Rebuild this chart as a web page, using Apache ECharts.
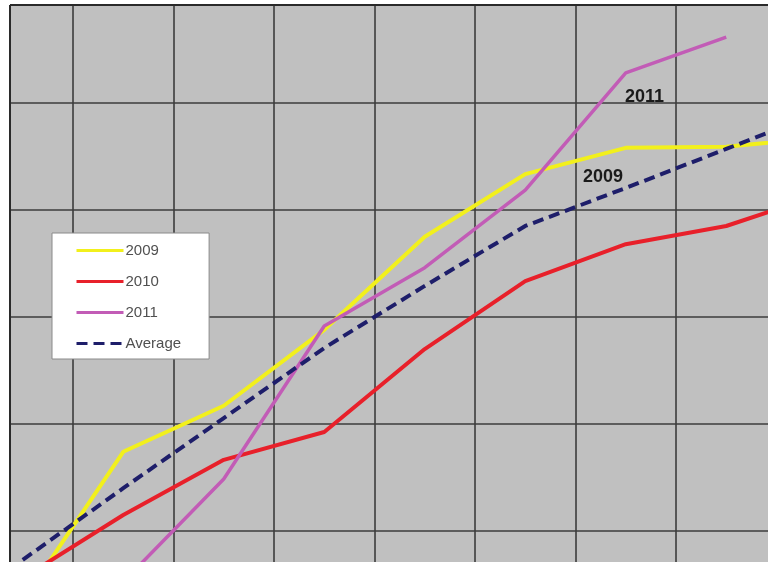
<!DOCTYPE html>
<html>
<head>
<meta charset="utf-8">
<script src="https://cdn.jsdelivr.net/npm/echarts@6/dist/echarts.min.js"></script>
<style>
html,body{margin:0;padding:0;background:#fff;}
#chart{width:768px;height:562px;}
</style>
</head>
<body>
<div id="chart"></div>
<script>
// Categories (periods; axis labels are not visible in the reference)
const categories = ['1', '2', '3', '4', '5', '6', '7', '8', '9'];
// Series values
const series2009 = [6.9, 34.8, 43.4, 57.6, 75.0, 86.7, 91.6, 91.8, 93.6];
const series2010 = [11.2, 23.0, 33.3, 38.5, 54.0, 66.7, 73.6, 77.0, 83.2];
const series2011 = [1.5, 10.5, 29.7, 58.3, 69.2, 83.7, 105.6, 112.3, null];
const seriesAverage = [14.6, 28.0, 41.1, 54.2, 65.8, 77.0, 84.1, 91.4, 98.7];
const seriesNames = ['2009', '2010', '2011', 'Average'];

const chart = echarts.init(document.getElementById('chart'), null, {renderer: 'canvas'});
const gridColor = '#3c3c3c';
const option = {
  animation: false,
  backgroundColor: '#ffffff',
  grid: {
    left: -27.5, right: -109, top: 5, bottom: -76,
    outerBoundsMode: 'none',
    containLabel: false,
    show: true, backgroundColor: '#c0c0c0', borderWidth: 0
  },
  xAxis: {
    type: 'category',
    data: categories,
    boundaryGap: true,
    axisLine: {show: false},
    axisTick: {show: false},
    axisLabel: {show: false},
    splitLine: {show: true, lineStyle: {color: gridColor, width: 1.6}}
  },
  yAxis: {
    type: 'value',
    min: 0, max: 118.3, interval: 20,
    axisLine: {show: false},
    axisTick: {show: false},
    axisLabel: {show: false},
    splitLine: {show: true, lineStyle: {color: gridColor, width: 1.6}}
  },
  legend: {
    orient: 'vertical',
    left: 52, top: 233,
    backgroundColor: '#ffffff',
    borderColor: '#8a8a8a', borderWidth: 1,
    padding: [10, 28, 8, 23],
    itemWidth: 47, itemHeight: 14, itemGap: 16,
    selectedMode: false,
    itemStyle: {opacity: 0},
    lineStyle: {width: 3},
    textStyle: {fontSize: 15, color: '#505050', fontFamily: 'Liberation Sans, Arial, sans-serif', padding: [0, 0, 0, -3]},
    data: seriesNames
  },
  series: [
    {name: seriesNames[0], type: 'line', data: series2009, symbol: 'none',
     lineStyle: {color: '#f2f01c', width: 4}, itemStyle: {color: '#f2f01c'}},
    {name: seriesNames[1], type: 'line', data: series2010, symbol: 'none',
     lineStyle: {color: '#e8202a', width: 4}, itemStyle: {color: '#e8202a'}},
    {name: seriesNames[2], type: 'line', data: series2011, symbol: 'none',
     lineStyle: {color: '#c25cb6', width: 3.5}, itemStyle: {color: '#c25cb6'}},
    {name: seriesNames[3], type: 'line', data: seriesAverage, symbol: 'none',
     lineStyle: {color: '#1e1e6a', width: 4, type: [11, 6]}, itemStyle: {color: '#1e1e6a'}}
  ],
  graphic: [
    {type: 'rect', z: 100, shape: {x: 0, y: 0, width: 10, height: 562}, style: {fill: '#ffffff'}},
    {type: 'rect', z: 100, shape: {x: 0, y: 0, width: 768, height: 4}, style: {fill: '#ffffff'}},
    {type: 'line', z: 101, shape: {x1: 10, y1: 5, x2: 10, y2: 562}, style: {stroke: '#2a2a2a', lineWidth: 2}},
    {type: 'line', z: 101, shape: {x1: 10, y1: 5, x2: 768, y2: 5}, style: {stroke: '#2a2a2a', lineWidth: 2}},
    {type: 'text', z: 102, left: 625, top: 88,
     style: {text: '2011', fill: '#1a1a1a', font: 'bold 18px "Liberation Sans", Arial, sans-serif'}},
    {type: 'text', z: 102, left: 583, top: 168,
     style: {text: '2009', fill: '#1a1a1a', font: 'bold 18px "Liberation Sans", Arial, sans-serif'}}
  ]
};
chart.setOption(option);
</script>
</body>
</html>
